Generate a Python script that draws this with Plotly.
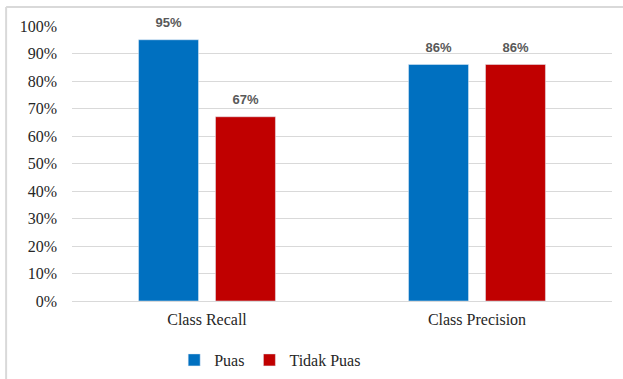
import plotly.graph_objects as go

categories = ["Class Recall", "Class Precision"]
puas = [0.95, 0.86]
tidak_puas = [0.67, 0.86]
series_names = ["Puas", "Tidak Puas"]
colors = ["#0070C0", "#C00000"]

SERIF = "Times New Roman, Liberation Serif, DejaVu Serif, serif"

fig = go.Figure()
for i, (name, vals, col) in enumerate(zip(series_names, [puas, tidak_puas], colors)):
    fig.add_trace(go.Bar(
        x=categories, y=vals, name=name, marker_color=col,
        offsetgroup=str(i), alignmentgroup="a",
    ))
for i, (name, vals) in enumerate(zip(series_names, [puas, tidak_puas])):
    fig.add_trace(go.Scatter(
        x=categories, y=vals, mode="markers+text", showlegend=False, hoverinfo="skip",
        marker=dict(size=13, opacity=0), offsetgroup=str(i), alignmentgroup="a",
        text=[f"<b>{v*100:.0f}%</b>" for v in vals], textposition="top center",
        textfont=dict(family="Liberation Sans, Arial, sans-serif", size=13, color="#595959"),
        cliponaxis=False,
    ))

fig.update_layout(
    width=623, height=379,
    margin=dict(l=72, r=11, t=26, b=78, autoexpand=False),
    paper_bgcolor="white", plot_bgcolor="white",
    barmode="group", bargap=0.43, bargroupgap=0.221,
    scattermode="group", scattergap=0.43,
    font=dict(family=SERIF, size=15, color="#262626"),
    legend=dict(orientation="h", x=0.367, xanchor="center", yref="container", y=0.095, yanchor="top",
                font=dict(family=SERIF, size=16, color="#262626"),
                itemwidth=30, traceorder="normal", tracegroupgap=0),
    showlegend=True,
    shapes=[
        dict(type="line", xref="paper", yref="paper", x0=-0.122, x1=-0.122, y0=-0.3, y1=1.069,
             line=dict(color="#d9d9d9", width=2)),
        dict(type="line", xref="paper", yref="paper", x0=-0.122, x1=1.03, y0=1.069, y1=1.069,
             line=dict(color="#d9d9d9", width=2)),
    ],
)
fig.update_yaxes(range=[0, 1], dtick=0.1, tickformat=".0%", showgrid=True,
                 gridcolor="#d9d9d9", gridwidth=1, zeroline=False, showline=False,
                 ticklabelstandoff=14, tickfont=dict(family=SERIF, size=16, color="#262626"))
fig.update_xaxes(showline=True, linecolor="#d9d9d9", linewidth=1, showgrid=False,
                 tickfont=dict(family=SERIF, size=16, color="#262626"), ticklabelstandoff=4)

fig.write_html("out.html")
